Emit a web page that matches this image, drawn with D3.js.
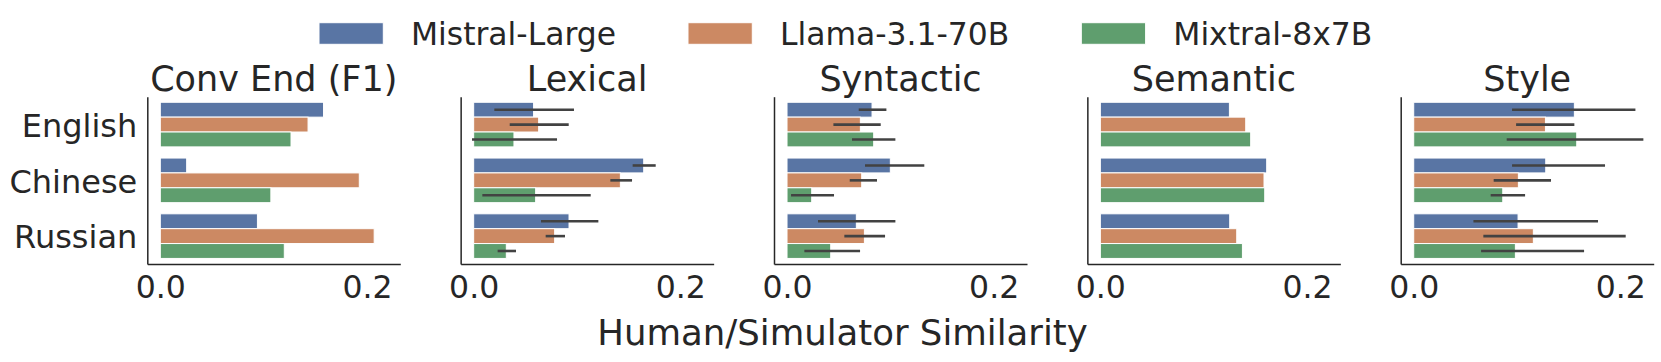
<!DOCTYPE html>
<html><head><meta charset="utf-8">
<script src="https://cdn.jsdelivr.net/npm/d3@7"></script>
<style>body{margin:0;background:#fff}svg{display:block}text{font-family:"DejaVu Sans",sans-serif;fill:#262626}</style>
</head><body><svg id="c" width="1661" height="362"></svg>
<script>
const languages = ["English", "Chinese", "Russian"];
const models = ["Mistral-Large", "Llama-3.1-70B", "Mixtral-8x7B"];
const colors = ["#5975a4", "#cc8963", "#5f9e6e"];
const panelTitles = ["Conv End (F1)", "Lexical", "Syntactic", "Semantic", "Style"];
const xTicks = [0.0, 0.2];
const xLabel = "Human/Simulator Similarity";

// values[model][language]
const convEndValues = [[0.158, 0.0255, 0.094], [0.143, 0.1926, 0.207], [0.1265, 0.107, 0.120]];
const lexicalValues = [[0.058, 0.1646, 0.0923], [0.0629, 0.142, 0.0784], [0.039, 0.060, 0.0316]];
const lexicalLow = [[0.020, 0.1539, 0.0652], [0.0349, 0.1323, 0.0697], [-0.0016, 0.0084, 0.0232]];
const lexicalHigh = [[0.0971, 0.1762, 0.1207], [0.092, 0.1533, 0.0884], [0.0807, 0.1133, 0.041]];
const syntacticValues = [[0.0823, 0.100, 0.0671], [0.071, 0.0723, 0.0749], [0.0839, 0.0239, 0.0423]];
const syntacticLow = [[0.0694, 0.0755, 0.030], [0.0449, 0.0607, 0.0555], [0.0629, 0.0039, 0.0168]];
const syntacticHigh = [[0.0962, 0.1329, 0.1049], [0.0907, 0.0871, 0.0949], [0.1049, 0.0455, 0.0707]];
const semanticValues = [[0.1249, 0.161, 0.1252], [0.1407, 0.1584, 0.132], [0.1455, 0.1591, 0.1375]];
const styleValues = [[0.1555, 0.1278, 0.101], [0.1275, 0.1013, 0.1158], [0.1578, 0.0862, 0.0984]];
const styleLow = [[0.0952, 0.0952, 0.0578], [0.0991, 0.0774, 0.0674], [0.090, 0.0745, 0.0652]];
const styleHigh = [[0.2146, 0.1852, 0.1784], [0.1555, 0.1329, 0.2052], [0.2223, 0.1078, 0.1649]];

const panels = [
  {values: convEndValues, low: null, high: null},
  {values: lexicalValues, low: lexicalLow, high: lexicalHigh},
  {values: syntacticValues, low: syntacticLow, high: syntacticHigh},
  {values: semanticValues, low: null, high: null},
  {values: styleValues, low: styleLow, high: styleHigh}
];

const svg = d3.select("#c");
const axW = 253, axTop = 96.7, axBot = 264.0;
const firstLeft = 147.3, pitch = 313.35;
const spine = "#262626";

const x = d3.scaleLinear().domain([-0.0126, 0.2323]).range([0, axW]);
const y = d3.scaleBand().domain(languages).range([axTop, axBot]).padding(0);
const yInner = d3.scaleBand().domain(d3.range(models.length)).range([0, y.bandwidth() * 0.8]);

panels.forEach((p, pi) => {
  const g = svg.append("g").attr("transform", `translate(${firstLeft + pi * pitch},0)`);
  // bars
  p.values.forEach((vals, mi) => {
    languages.forEach((lang, li) => {
      const y0 = y(lang) + y.bandwidth() * 0.1 + yInner(mi);
      const v = vals[li];
      g.append("rect")
        .attr("x", x(Math.min(0, v))).attr("width", Math.abs(x(v) - x(0)))
        .attr("y", y0).attr("height", yInner.bandwidth())
        .attr("fill", colors[mi]).attr("stroke", "#fff").attr("stroke-width", 1);
      if (p.low) {
        const cy = y0 + yInner.bandwidth() / 2;
        g.append("line").attr("x1", x(p.low[mi][li])).attr("x2", x(p.high[mi][li]))
          .attr("y1", cy).attr("y2", cy).attr("stroke", "#424242").attr("stroke-width", 2.6);
      }
    });
  });
  // axes
  const xa = d3.axisBottom(x).tickValues(xTicks).tickFormat(d3.format(".1f")).tickSize(0).tickPadding(12);
  const xg = g.append("g").attr("transform", `translate(0,${axBot})`).call(xa);
  xg.select(".domain").attr("stroke", spine).attr("stroke-width", 1.5);
  xg.selectAll("text").attr("font-size", 31.5).attr("fill", "#262626").attr("font-family", "DejaVu Sans").attr("dy", "0.71em").attr("y", 12);
  const ya = d3.axisLeft(y).tickSize(0).tickPadding(10);
  const yg = g.append("g").call(ya);
  yg.select(".domain").attr("stroke", spine).attr("stroke-width", 1.5);
  yg.selectAll("text").attr("font-size", 32).attr("fill", "#262626").attr("font-family", "DejaVu Sans")
    .attr("dy", "0.38em")
    .style("display", pi === 0 ? null : "none");
  // title
  g.append("text").attr("x", axW / 2).attr("y", 91).attr("text-anchor", "middle")
    .attr("font-size", 35).text(panelTitles[pi]);
});

// x label
svg.append("text").attr("x", 842.5).attr("y", 345).attr("text-anchor", "middle")
  .attr("font-size", 35.5).text(xLabel);

// legend
const leg = svg.append("g");
let lx = 319;
models.forEach((m, i) => {
  leg.append("rect").attr("x", lx).attr("y", 22.7).attr("width", 64.3).attr("height", 21.6)
    .attr("fill", colors[i]).attr("stroke", "#fff").attr("stroke-width", 1);
  const t = leg.append("text").attr("x", lx + 92).attr("y", 45).attr("font-size", 31.4).text(m);
  const w = t.node().getComputedTextLength();
  lx = lx + 92 + w + 72;
});
</script></body></html>
